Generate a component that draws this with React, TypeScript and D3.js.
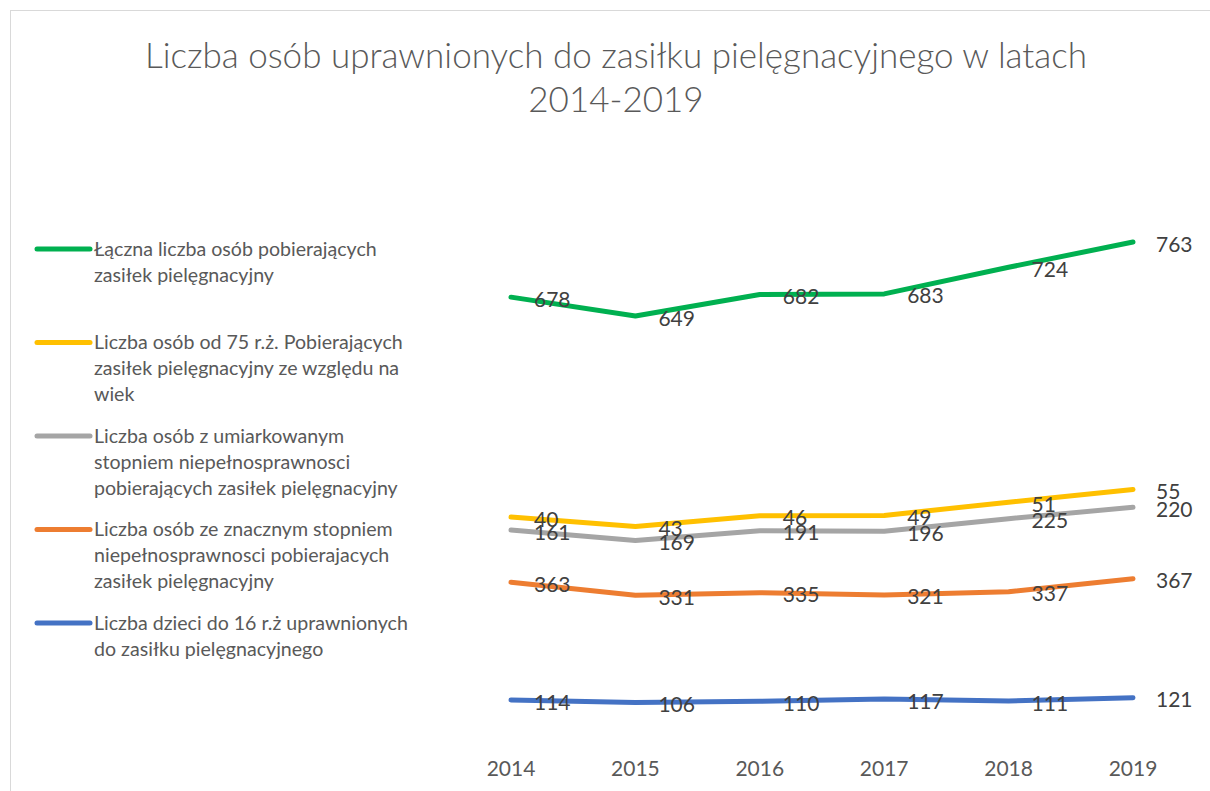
import { useMemo } from "react";
import { scaleLinear, scalePoint, stack, line as d3line } from "d3";

const years = ["2014", "2015", "2016", "2017", "2018", "2019"];
const children = [114, 106, 110, 117, 111, 121];
const severe = [363, 331, 335, 321, 337, 367];
const moderate = [161, 169, 191, 196, 225, 220];
const over75 = [40, 43, 46, 49, 51, 55];
const total = [678, 649, 682, 683, 724, 763];

// stacking order (bottom -> top), as in the original stacked line chart
const seriesKeys = ["children", "severe", "moderate", "over75", "total"];
const seriesValues: Record<string, number[]> = { children, severe, moderate, over75, total };
const seriesColors: Record<string, string> = {
  children: "#4472C4",
  severe: "#ED7D31",
  moderate: "#A5A5A5",
  over75: "#FFC000",
  total: "#00B050",
};
// legend order (top -> bottom)
const legendKeys = ["total", "over75", "moderate", "severe", "children"];
const legendLabels: Record<string, string[]> = {
  total: ["Łączna liczba osób pobierających", "zasiłek pielęgnacyjny"],
  over75: ["Liczba osób od 75 r.ż. Pobierających", "zasiłek pielęgnacyjny ze względu na", "wiek"],
  moderate: ["Liczba osób z umiarkowanym", "stopniem niepełnosprawnosci", "pobierających zasiłek pielęgnacyjny"],
  severe: ["Liczba osób ze znacznym stopniem", "niepełnosprawnosci pobierajacych", "zasiłek pielęgnacyjny"],
  children: ["Liczba dzieci do 16 r.ż uprawnionych", "do zasiłku pielęgnacyjnego"],
};
const titleLines = ["Liczba osób uprawnionych do zasiłku pielęgnacyjnego w latach", "2014-2019"];

const WIDTH = 1210;
const HEIGHT = 791;
const FONT = "Lato, 'Open Sans', sans-serif";
const TEXT = "#404040";

export default function App() {
  const x = scalePoint<string>().domain(years).range([511, 1133]);
  const y = scaleLinear().domain([0, 1600]).range([737, 218]);

  const stacked = useMemo(() => {
    const rows = years.map((yr, i) => {
      const r: Record<string, number | string> = { year: yr };
      seriesKeys.forEach((k) => (r[k] = seriesValues[k][i]));
      return r;
    });
    return stack<Record<string, number | string>>().keys(seriesKeys)(rows);
  }, []);

  const gen = d3line<[number, number]>()
    .x((_, i) => x(years[i]) ?? 0)
    .y((d) => y(d[1]));

  // legend entries are spaced evenly, lines wrap inside each entry
  const legendY = scaleLinear().domain([0, legendKeys.length - 1]).range([249, 623]);
  const lineH = 26;

  return (
    <svg
      width={WIDTH}
      height={HEIGHT}
      viewBox={`0 0 ${WIDTH} ${HEIGHT}`}
      style={{ position: "absolute", left: 0, top: 0, background: "white" }}
      fontFamily={FONT}
    >
      <rect x={10.5} y={10.5} width={1300} height={900} fill="white" stroke="#d9d9d9" strokeWidth={1} />

      {titleLines.map((t, i) => (
        <text key={i} x={616} y={68 + i * 44} textAnchor="middle" fontSize={35} fontWeight={300} fill="#595959">
          {t}
        </text>
      ))}

      {stacked.map((s) => (
        <path
          key={s.key}
          d={gen(s.map((d) => [d[0], d[1]] as [number, number])) ?? ""}
          fill="none"
          stroke={seriesColors[s.key]}
          strokeWidth={5}
          strokeLinecap="round"
          strokeLinejoin="round"
        />
      ))}

      {stacked.map((s) => (
        <g key={`lbl-${s.key}`}>
          {s.map((d, i) => (
            <text
              key={i}
              x={(x(years[i]) ?? 0) + 23}
              y={y(d[1]) + 2}
              dy="0.36em"
              fontSize={21}
              fill={TEXT}
            >
              {seriesValues[s.key][i]}
            </text>
          ))}
        </g>
      ))}

      {years.map((yr) => (
        <text key={yr} x={x(yr)} y={776} textAnchor="middle" fontSize={21} fill="#595959">
          {yr}
        </text>
      ))}

      {legendKeys.map((key, i) => {
        const top = legendY(i);
        return (
          <g key={`leg-${key}`}>
            <line x1={37} x2={90} y1={top} y2={top} stroke={seriesColors[key]} strokeWidth={5} strokeLinecap="round" />
            {legendLabels[key].map((ln, j) => (
              <text key={j} x={94} y={top + j * lineH} dy="0.35em" fontSize={19.6} fill="#595959">
                {ln}
              </text>
            ))}
          </g>
        );
      })}
    </svg>
  );
}
